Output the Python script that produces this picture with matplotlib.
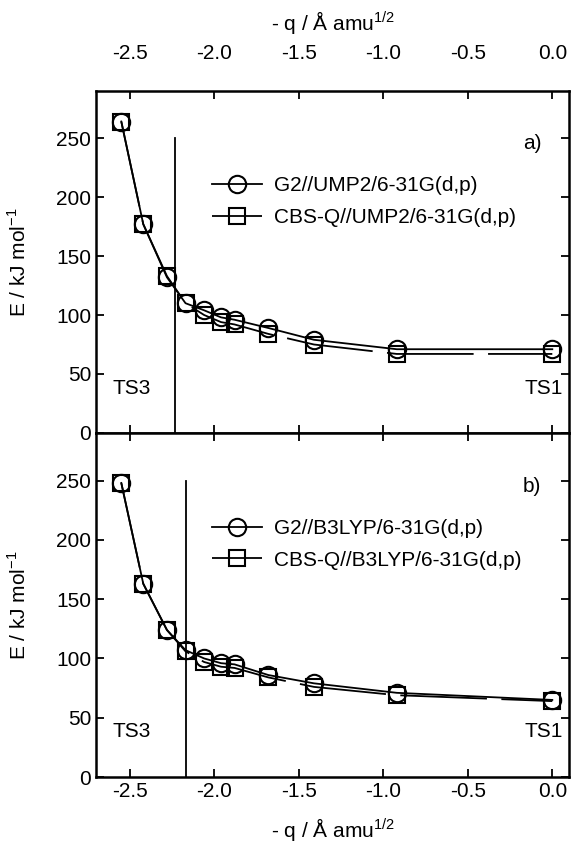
import matplotlib
matplotlib.use("Agg")
import matplotlib.pyplot as plt

plt.rcParams['font.family'] = ['Liberation Sans', 'DejaVu Sans']
plt.rcParams['font.size'] = 15
plt.rcParams['axes.unicode_minus'] = False
plt.rcParams['mathtext.fontset'] = 'custom'
plt.rcParams['mathtext.rm'] = 'Liberation Sans'

# 反応座標 (-q)
q = [-2.55, -2.42, -2.28, -2.17, -2.06, -1.96, -1.88, -1.68, -1.41, -0.92, 0.0]

# a) UMP2 geometries
g2_ump2 = [264, 177, 132, 110, 104, 98, 96, 89, 79, 71, 71]
cbs_ump2 = [264, 177, 133, 110, 100, 94, 92, 84, 75, 67, 67]

# b) B3LYP geometries
g2_b3lyp = [248, 163, 124, 107, 100, 96, 95, 86, 79, 71, 65]
cbs_b3lyp = [248, 163, 124, 106, 97, 93, 92, 84, 76, 69, 64]

# 縦線の位置
vline_a = -2.23
vline_b = -2.17

xlabel = '- q / Å amu$^{1/2}$'
ylabel = 'E / kJ mol$^{-1}$'

fig = plt.figure(figsize=(5.85, 8.49), dpi=100)
ax1 = fig.add_axes([0.164, 0.490, 0.809, 0.403])
ax2 = fig.add_axes([0.164, 0.0848, 0.809, 0.405])

panels = [
    (ax1, g2_ump2, cbs_ump2, 'G2//UMP2/6-31G(d,p)', 'CBS-Q//UMP2/6-31G(d,p)', 'a)', vline_a),
    (ax2, g2_b3lyp, cbs_b3lyp, 'G2//B3LYP/6-31G(d,p)', 'CBS-Q//B3LYP/6-31G(d,p)', 'b)', vline_b),
]

for ax, g2, cbs, lab1, lab2, tag, vx in panels:
    ax.plot(q, g2, color='black', lw=1.3, marker='o', ms=12.5, mfc='none',
            mec='black', mew=1.5, label=lab1)
    # CBS-Q の線は長い破線
    ax.plot(q, cbs, color='black', lw=1.3, dashes=(48, 8), marker='s', ms=11.5,
            mfc='none', mec='black', mew=1.5, label=lab2)
    ax.plot([vx, vx], [0, 250], color='black', lw=1.3)
    ax.set_xlim(-2.7, 0.1)
    ax.set_ylim(0, 290)
    ax.set_xticks([-2.5, -2.0, -1.5, -1.0, -0.5, 0.0])
    ax.set_yticks([0, 50, 100, 150, 200, 250])
    ax.set_ylabel(ylabel, fontsize=15)
    ax.tick_params(direction='in', length=6, width=1.3, top=True, right=True)
    for s in ax.spines.values():
        s.set_linewidth(1.8)
    ax.text(-0.12, 245, tag, ha='center', va='center')
    ax.text(-2.6, 38, 'TS3', ha='left', va='center')
    ax.text(0.06, 38, 'TS1', ha='right', va='center')
    ax.legend(loc='upper left', bbox_to_anchor=(0.245, 0.75), frameon=False,
              handlelength=2.4, handletextpad=0.6, labelspacing=0.6,
              borderpad=0, borderaxespad=0, fontsize=15)

ax1.xaxis.set_label_position('top')
ax1.tick_params(labeltop=True, labelbottom=False)
ax1.tick_params(axis='x', which='major', pad=20)
ax1.set_xlabel(xlabel, labelpad=10)
ax2.set_xlabel(xlabel, labelpad=11)
ax1.yaxis.set_label_coords(-0.14, 0.5)
ax2.yaxis.set_label_coords(-0.14, 0.5)

fig.savefig('out.png', dpi=100)
